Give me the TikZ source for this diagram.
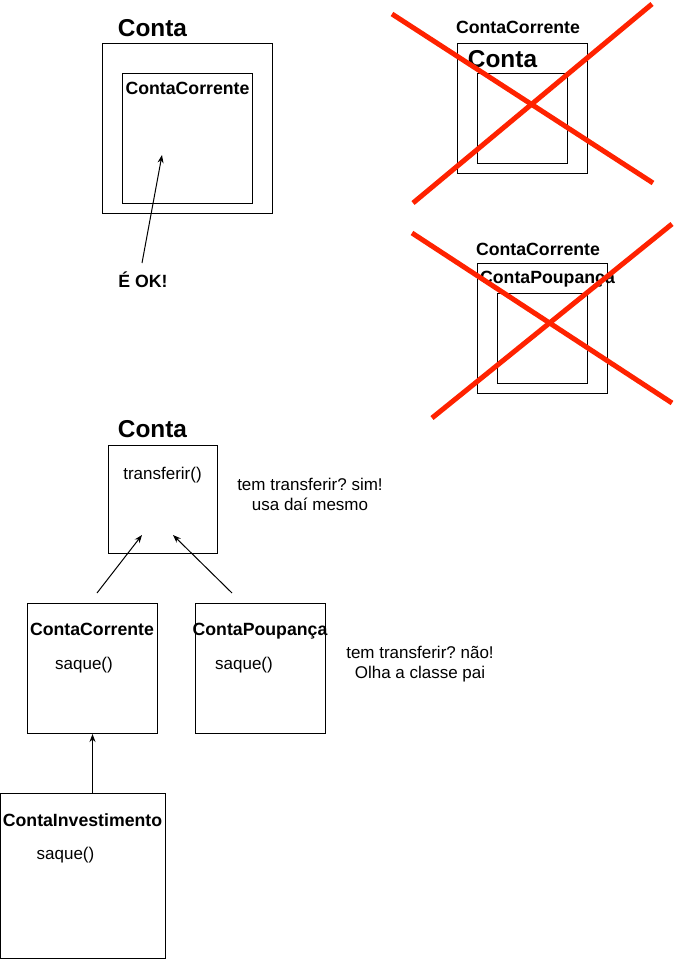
\documentclass[tikz,border=0pt]{standalone}
\usepackage{fontspec}
\setmainfont{Liberation Sans}
\usetikzlibrary{arrows.meta}
\definecolor{crossred}{HTML}{FF2200}
\frenchspacing

\begin{document}
\begin{tikzpicture}[x=1pt, y=-1pt,
  box/.style={draw, line width=1pt, anchor=north west, inner sep=0pt},
  title/.style={font=\fontsize{24.4}{28}\selectfont\bfseries, anchor=base, inner sep=0pt},
  cname/.style={font=\fontsize{17.7}{20}\selectfont\bfseries, anchor=base, inner sep=0pt},
  txt/.style={font=\fontsize{17}{20}\selectfont, anchor=base, inner sep=0pt},
  note/.style={font=\fontsize{17}{20}\selectfont, align=center, inner sep=0pt},
  cross/.style={draw=crossred, line width=5pt},
  arr/.style={-{Stealth[length=8pt,width=6pt]}, line width=1pt}]

\useasboundingbox (0,0) rectangle (678,960);

% Conta contendo ContaCorrente: ok
\node[box, minimum width=170pt, minimum height=170pt] (contaA) at (102,43) {};
\node[box, minimum width=130pt, minimum height=130pt] (correnteA) at (122,73) {};
\node[title] (contaAlbl) at (152.5,37) {Conta};
\node[cname] (correnteAlbl) at (187.5,95) {ContaCorrente};
\node[cname] (ok) at (143,287) {É OK!};
\coordinate (okTail) at (142,263);
\coordinate (okTip) at (162,155);
\draw [arr] (okTail) -- (okTip);

% ContaCorrente contendo Conta: errado
\node[box, minimum width=130pt, minimum height=130pt] (correnteB) at (457,43) {};
\node[box, minimum width=90pt, minimum height=90pt] (contaB) at (477,73) {};
\node[cname] (correnteBlbl) at (518,34) {ContaCorrente};
\node[title] (contaBlbl) at (502.5,68) {Conta};
\draw [cross] (392,14) -- (653,183);
\draw [cross] (413,203) -- (652,4);

% ContaCorrente contendo ContaPoupanca: errado
\node[box, minimum width=130pt, minimum height=130pt] (correnteC) at (477,263) {};
\node[box, minimum width=90pt, minimum height=90pt] (poupancaC) at (497,293) {};
\node[cname] (correnteClbl) at (538,255) {ContaCorrente};
\node[cname] (poupancaClbl) at (547.5,283) {ContaPoupança};
\draw [cross] (412,233) -- (672,403);
\draw [cross] (432,418) -- (672,224);

% hierarquia
\node[box, minimum width=109pt, minimum height=108pt] (conta) at (108,445) {};
\node[title] (contaLbl) at (152.5,437) {Conta};
\node[txt] (transferir) at (162.5,479) {transferir()};
\node[note] (notaSim) at (310,494) {tem transferir? sim!\\usa daí mesmo};

\node[box, minimum width=130pt, minimum height=130pt] (corrente) at (27,603) {};
\node[cname] (correnteLbl) at (92,635) {ContaCorrente};
\node[txt] (saqueCC) at (84,669) {saque()};

\node[box, minimum width=130pt, minimum height=130pt] (poupanca) at (195,603) {};
\node[cname] (poupancaLbl) at (260,635) {ContaPoupança};
\node[txt] (saqueCP) at (244,669) {saque()};
\node[note] (notaNao) at (420,664) {tem transferir? não!\\Olha a classe pai};

\node[box, minimum width=165pt, minimum height=165pt] (investimento) at (0,793) {};
\node[cname] (investimentoLbl) at (82.5,826) {ContaInvestimento};
\node[txt] (saqueCI) at (65.5,859) {saque()};

\coordinate (ccTail) at (97,593);
\coordinate (ccTip) at (142,535);
\coordinate (cpTail) at (232,593);
\coordinate (cpTip) at (173,535);
\draw [arr] (ccTail) -- (ccTip);
\draw [arr] (cpTail) -- (cpTip);
\draw [arr] (investimento.north -| corrente.south) -- (corrente.south);

\end{tikzpicture}
\end{document}
